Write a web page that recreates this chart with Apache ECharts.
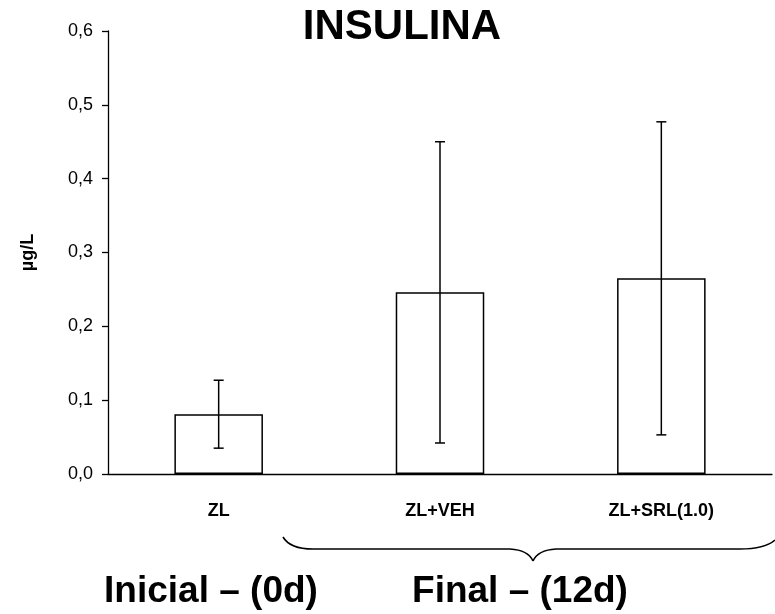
<!DOCTYPE html>
<html>
<head>
<meta charset="utf-8">
<script src="https://cdn.jsdelivr.net/npm/echarts@6/dist/echarts.min.js"></script>
<style>
  html, body { margin: 0; padding: 0; background: #fff; }
  #chart { width: 775px; height: 614px; }
</style>
</head>
<body>
<div id="chart"></div>
<script>
var groups = ["ZL", "ZL+VEH", "ZL+SRL(1.0)"];
var means = [0.081, 0.246, 0.265];
var errors = [0.046, 0.204, 0.212];
var yTicks = { min: 0, max: 0.6, step: 0.1 };

(function () {
  "use strict";

  var font = "'Liberation Sans', Arial, Helvetica, sans-serif";
  var chart = echarts.init(document.getElementById("chart"));

  var errData = groups.map(function (g, i) {
    return [i, means[i] - errors[i], means[i] + errors[i]];
  });

  // curly brace under the two "Final" groups, built from curves and lines
  var braceStyle = { fill: null, stroke: "#000", lineWidth: 1.6 };
  function curve(x1, y1, cx, cy, x2, y2) {
    return { type: "bezierCurve", shape: { x1: x1, y1: y1, cpx1: cx, cpy1: cy, x2: x2, y2: y2 }, style: braceStyle };
  }
  function seg(x1, y1, x2, y2) {
    return { type: "line", shape: { x1: x1, y1: y1, x2: x2, y2: y2 }, style: braceStyle };
  }
  var brace = [
    curve(283, 537, 290, 549, 313, 549),
    seg(313, 549, 510, 549),
    curve(510, 549, 528, 550, 533, 561),
    curve(533, 561, 538, 550, 556, 549),
    seg(556, 549, 740, 549),
    curve(740, 549, 765, 549, 775, 540)
  ];

  chart.setOption({
    animation: false,
    grid: { left: 108, right: 3, top: 31, bottom: 140 },
    xAxis: {
      type: "category",
      data: groups,
      axisLine: { lineStyle: { color: "#000", width: 1.3 } },
      axisTick: { alignWithLabel: false, length: 8, lineStyle: { color: "#000", width: 1.3 } },
      axisLabel: {
        margin: 28,
        color: "#000",
        fontFamily: font,
        fontWeight: "bold",
        fontSize: 18
      }
    },
    yAxis: {
      type: "value",
      min: yTicks.min,
      max: yTicks.max,
      interval: yTicks.step,
      name: "µg/L",
      nameLocation: "middle",
      nameGap: 71,
      nameRotate: 90,
      nameTextStyle: { color: "#000", fontFamily: font, fontWeight: "bold", fontSize: 18 },
      splitLine: { show: false },
      axisLine: { show: true, lineStyle: { color: "#000", width: 1.3 } },
      axisTick: { show: true, length: 6, lineStyle: { color: "#000", width: 1.3 } },
      axisLabel: {
        margin: 15,
        color: "#000",
        fontFamily: font,
        fontSize: 18,
        formatter: function (v) {
          return v.toFixed(1).replace(".", ",");
        }
      }
    },
    series: [
      {
        type: "bar",
        data: means,
        barWidth: "40%",
        itemStyle: { color: "#fff", borderColor: "#000", borderWidth: 1.5 }
      },
      {
        type: "custom",
        data: errData,
        z: 5,
        renderItem: function (params, api) {
          var lo = api.coord([api.value(0), api.value(1)]);
          var hi = api.coord([api.value(0), api.value(2)]);
          var cap = 5;
          var st = { stroke: "#000", lineWidth: 1.5 };
          return {
            type: "group",
            children: [
              { type: "line", shape: { x1: hi[0], y1: hi[1], x2: lo[0], y2: lo[1] }, style: st },
              { type: "line", shape: { x1: hi[0] - cap, y1: hi[1], x2: hi[0] + cap, y2: hi[1] }, style: st },
              { type: "line", shape: { x1: lo[0] - cap, y1: lo[1], x2: lo[0] + cap, y2: lo[1] }, style: st }
            ]
          };
        }
      }
    ],
    graphic: [
      {
        type: "text",
        x: 402,
        y: 27,
        style: {
          text: "INSULINA",
          font: "bold 42px " + font,
          fill: "#000",
          textAlign: "center",
          textVerticalAlign: "middle"
        }
      },
      {
        type: "text",
        x: 211,
        y: 592,
        style: {
          text: "Inicial – (0d)",
          font: "bold 37px " + font,
          fill: "#000",
          textAlign: "center",
          textVerticalAlign: "middle"
        }
      },
      {
        type: "text",
        x: 520,
        y: 592,
        style: {
          text: "Final – (12d)",
          font: "bold 37px " + font,
          fill: "#000",
          textAlign: "center",
          textVerticalAlign: "middle"
        }
      }
    ].concat(brace)
  });
})();
</script>
</body>
</html>
